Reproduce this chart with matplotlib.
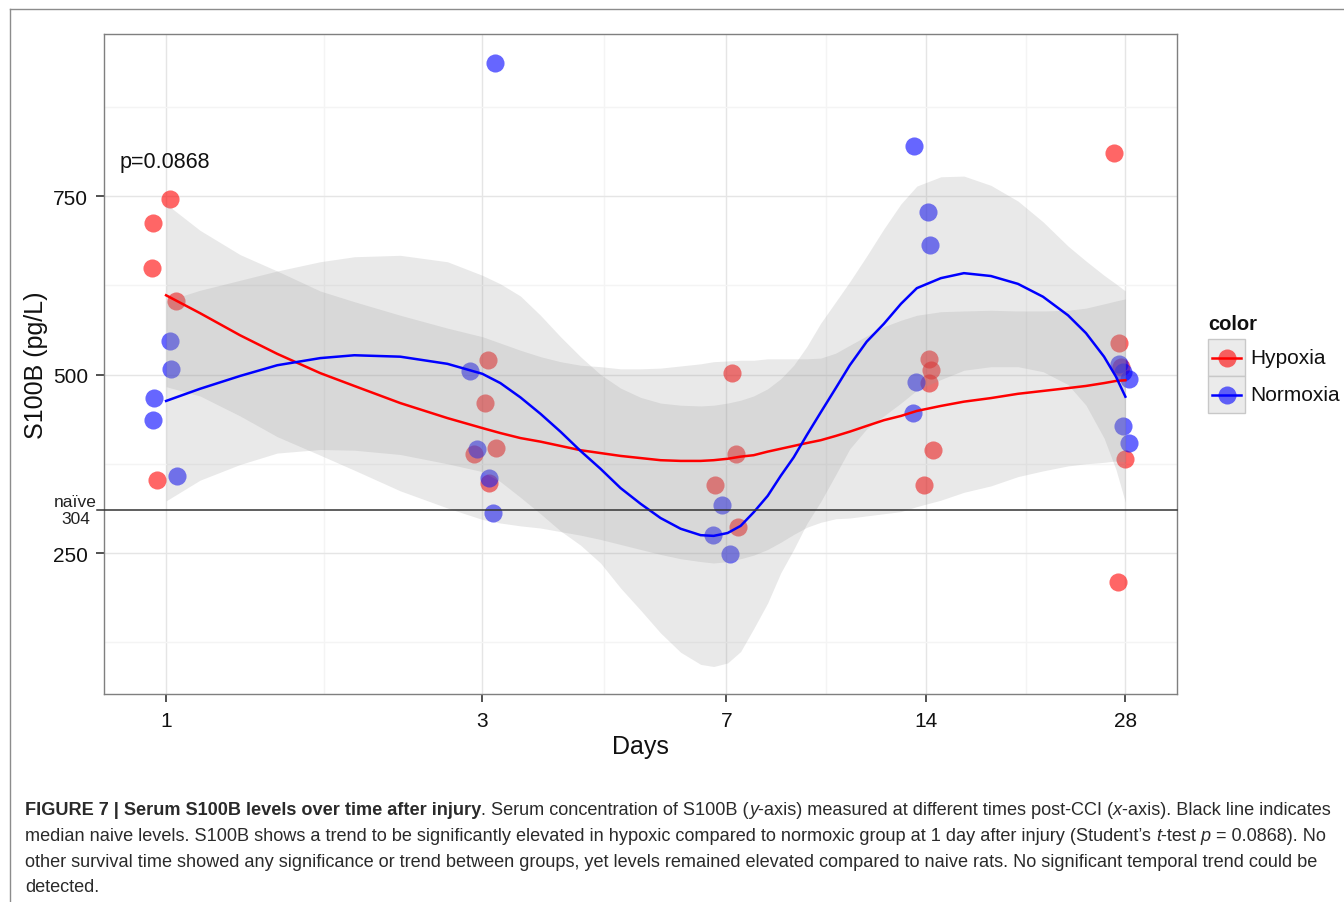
import numpy as np
import matplotlib
matplotlib.use('Agg')
import matplotlib.pyplot as plt
from matplotlib import font_manager
from matplotlib.patches import Rectangle
from matplotlib.lines import Line2D
from matplotlib.ticker import FixedLocator, NullFormatter

plt.rcParams['font.family'] = ['Liberation Sans', 'DejaVu Sans']

# --- data ---------------------------------------------------------------
days = [1, 3, 7, 14, 28]

hyp_x = [0.956, 1.014, 0.952, 1.035, 0.969,
         3.064, 3.03, 2.918, 3.15, 3.075,
         7.13, 7.23, 6.72, 7.28,
         14.15, 14.24, 14.15, 14.34, 13.9,
         26.9, 27.4, 27.6, 28.0, 27.3]
hyp_y = [712, 746, 649, 603, 352,
         520, 460, 389, 397, 348,
         502, 389, 345, 286,
         522, 506, 488, 394, 345,
         810, 544, 511, 382, 209]

nor_x = [1.014, 1.017, 0.959, 0.956, 1.039,
         2.878, 2.949, 3.075, 3.117, 3.139,
         6.89, 6.68, 7.08,
         13.43, 14.1, 14.2, 13.52, 13.38,
         27.4, 27.8, 28.4, 27.8, 28.4]
nor_y = [547, 508, 467, 436, 358,
         505, 396, 355, 306, 936,
         317, 275, 249,
         820, 728, 681, 490, 446,
         515, 504, 494, 428, 404]

# smoothed curves and their confidence bands, read at these days
fit_x = [1.0, 1.125, 1.293, 1.471, 1.708, 1.923, 2.256, 2.657, 3.0, 3.194,
         3.424, 3.671, 3.935, 4.219, 4.522, 4.848, 5.197, 5.571, 5.973, 6.403,
         6.699, 7.032, 7.358, 7.698, 8.082, 8.456, 8.847, 9.257, 9.718, 10.24,
         10.75, 11.40, 12.10, 12.84, 13.57, 14.75, 15.98, 17.55, 19.28, 21.03,
         22.94, 24.42, 26.00, 27.10, 28.0]
hyp_fit = [611, 586, 555, 529, 502, 484, 460, 439, 425, 418,
           411, 406, 400, 394, 390, 386, 383, 380, 379, 379,
           380, 382, 385, 387, 392, 396, 400, 404, 408, 414,
           420, 428, 436, 442, 449, 456, 462, 467, 473, 477,
           481, 484, 488, 491, 492]
hyp_hi = [739, 702, 668, 645, 617, 602, 583, 565, 553, 544,
          534, 525, 518, 513, 511, 508, 508, 509, 512, 515,
          518, 519, 520, 520, 522, 522, 522, 522, 523, 530,
          541, 554, 567, 576, 583, 588, 589, 590, 589, 589,
          590, 593, 599, 603, 606]
hyp_lo = [483, 470, 442, 413, 387, 366, 337, 313, 297, 292,
          288, 285, 280, 275, 269, 262, 255, 248, 242, 238,
          236, 238, 242, 247, 255, 265, 276, 286, 293, 298,
          299, 302, 305, 308, 315, 324, 335, 344, 357, 365,
          372, 375, 377, 379, 378]
nor_fit = [463, 480, 498, 513, 523, 527, 525, 515, 501, 488,
           468, 445, 420, 393, 368, 341, 319, 299, 284, 275,
           274, 278, 288, 307, 330, 358, 384, 415, 447, 481,
           513, 546, 571, 599, 621, 635, 642, 638, 627, 609,
           583, 558, 525, 497, 469]
nor_hi = [603, 618, 632, 645, 658, 665, 667, 658, 639, 627,
          610, 583, 553, 525, 500, 481, 468, 460, 457, 456,
          457, 460, 464, 470, 480, 494, 513, 539, 572, 602,
          630, 666, 704, 739, 764, 777, 778, 765, 743, 714,
          680, 659, 639, 627, 617]
nor_lo = [323, 352, 374, 390, 395, 394, 388, 375, 364, 350,
          328, 305, 281, 261, 236, 201, 170, 138, 111, 94,
          91, 96, 112, 144, 180, 222, 255, 291, 322, 360,
          396, 424, 442, 460, 478, 493, 506, 511, 511, 504,
          486, 457, 411, 367, 321]

naive_level = 310
naive_label = 'naïve\n304'
p_label = 'p=0.0868'
groups = ['Hypoxia', 'Normoxia']
group_colors = ['#ff0000', '#0000ff']

caption = [
    [('FIGURE 7 | Serum S100B levels over time after injury', 'bold'),
     ('. Serum concentration of S100B (', 'normal'), ('y', 'italic'),
     ('-axis) measured at different times post-CCI (', 'normal'), ('x', 'italic'),
     ('-axis). Black line indicates', 'normal')],
    [('median naive levels. S100B shows a trend to be significantly elevated in hypoxic '
      'compared to normoxic group at 1 day after injury (Student\u2019s ', 'normal'),
     ('t', 'italic'), ('-test ', 'normal'), ('p', 'italic'), (' = 0.0868). No', 'normal')],
    [('other survival time showed any significance or trend between groups, yet levels '
      'remained elevated compared to naive rats. No significant temporal trend could be',
      'normal')],
    [('detected.', 'normal')],
]

# --- figure ----------------------------------------------------------------
W, H = 1344, 903
fig = plt.figure(figsize=(W / 100, H / 100), dpi=100)
fig.patch.set_facecolor('white')
ax = fig.add_axes([104 / W, 1 - 695 / H, (1177 - 104) / W, (695 - 35) / H])

ax.set_xscale('log')
ax.set_xlim(0.806, 33.5)
ax.set_ylim(52.5, 977)

band_color = '#999999'
pt_size = 170

ax.scatter(hyp_x, hyp_y, s=pt_size, color=group_colors[0], alpha=0.6, lw=0, zorder=2)
ax.scatter(nor_x, nor_y, s=pt_size, color=group_colors[1], alpha=0.6, lw=0, zorder=2)

ax.fill_between(fit_x, hyp_lo, hyp_hi, color=band_color, alpha=0.21, lw=0, zorder=3)
ax.fill_between(fit_x, nor_lo, nor_hi, color=band_color, alpha=0.21, lw=0, zorder=3)
ax.plot(fit_x, hyp_fit, color=group_colors[0], lw=1.8, zorder=4, solid_joinstyle='round')
ax.plot(fit_x, nor_fit, color=group_colors[1], lw=1.8, zorder=4, solid_joinstyle='round')

ax.axhline(naive_level, xmin=-7 / 1073, xmax=1, color='#333333', lw=1.1,
           clip_on=False, zorder=5)
ax.text(-7 / 1073, naive_level, naive_label, transform=ax.get_yaxis_transform(),
        ha='right', va='center', fontsize=12.5, multialignment='center',
        linespacing=1.15, color='#222222')
ax.text(0.852, 798, p_label, ha='left', va='center', fontsize=15.5, color='#111111')

# axes styling like theme_bw
ax.set_xticks(days)
ax.set_xticklabels([str(d) for d in days])
minor_x = np.sqrt(np.array(days[:-1]) * np.array(days[1:]))
ax.xaxis.set_minor_locator(FixedLocator(minor_x))
ax.xaxis.set_minor_formatter(NullFormatter())
ax.set_yticks([250, 500, 750])
ax.yaxis.set_minor_locator(FixedLocator([125, 375, 625, 875]))
ax.grid(True, which='major', color='#e5e5e5', lw=1.0, zorder=0)
ax.grid(True, which='minor', color='#f4f4f4', lw=1.0, zorder=0)
ax.set_axisbelow(True)
ax.tick_params(which='major', length=5.5, width=1.1, color='#222222', pad=6,
               labelsize=15, labelcolor='#111111')
ax.tick_params(axis='x', which='major', pad=7)
ax.tick_params(which='minor', length=0)
for s in ax.spines.values():
    s.set_color('#7f7f7f')
    s.set_linewidth(1.0)

ax.set_xlabel('Days', fontsize=18, color='#111111', va='top')
ax.xaxis.set_label_coords(0.5, -(735 - 695) / 660)
ax.set_ylabel('S100B (pg/L)', fontsize=18, color='#111111')
ax.yaxis.set_label_coords(-(104 - 48) / 1073, 0.5)

# --- legend drawn by hand in pixel positions ---------------------------------
def fx(px):
    return px / W

def fy(py):
    return 1 - py / H

fig.text(fx(1208), fy(324), 'color', fontsize=14.5, fontweight='bold',
         ha='left', va='center', color='#111111')
for i, (name, col) in enumerate(zip(groups, group_colors)):
    top = 340 + i * 37
    fig.add_artist(Rectangle((fx(1208), fy(top + 37)), fx(37), 37 / H,
                             transform=fig.transFigure, facecolor='#ebebeb',
                             edgecolor='#c8c8c8', lw=1.0))
    cy = top + 18.5
    fig.add_artist(Line2D([fx(1212), fx(1241)], [fy(cy), fy(cy)],
                          transform=fig.transFigure, color=col, lw=1.8))
    fig.add_artist(Line2D([fx(1226.5)], [fy(cy)], transform=fig.transFigure,
                          marker='o', markersize=13, color=col, alpha=0.6,
                          markeredgewidth=0, linestyle='none'))
    fig.text(fx(1250), fy(cy), name, fontsize=15, ha='left', va='center',
             color='#111111')

# --- outer frame lines --------------------------------------------------------
fig.add_artist(Line2D([fx(9.5), fx(9.5)], [fy(10), fy(903)], transform=fig.transFigure,
                      color='#8c8c8c', lw=1.0))
fig.add_artist(Line2D([fx(9.5), fx(1344)], [fy(10), fy(10)], transform=fig.transFigure,
                      color='#8c8c8c', lw=1.0))

# --- caption with mixed styles ----------------------------------------------
names = {f.name for f in font_manager.fontManager.ttflist}
cap_family = ['Liberation Sans Narrow'] if 'Liberation Sans Narrow' in names else ['Liberation Sans']
cap_family = cap_family + ['DejaVu Sans']

renderer = fig.canvas.get_renderer()


def draw_runs(runs, x0, base, size, draw=True):
    x = x0
    for txt, style in runs:
        kw = dict(fontsize=size, family=cap_family, color='#2a2a2a', va='baseline', ha='left')
        if style == 'bold':
            kw['fontweight'] = 'bold'
        if style == 'italic':
            kw['fontstyle'] = 'italic'
        t = fig.text(fx(x), fy(base), txt, **kw)
        w = t.get_window_extent(renderer).width
        if not draw:
            t.remove()
        x += w
    return x - x0


size0 = 11.0
width0 = draw_runs(caption[0], 25, 815, size0, draw=False)
cap_size = size0 * (1335 - 25) / width0
for runs, base in zip(caption, [815, 841, 867, 892]):
    draw_runs(runs, 25, base, cap_size)

fig.savefig('out.png', dpi=100, facecolor='white')
